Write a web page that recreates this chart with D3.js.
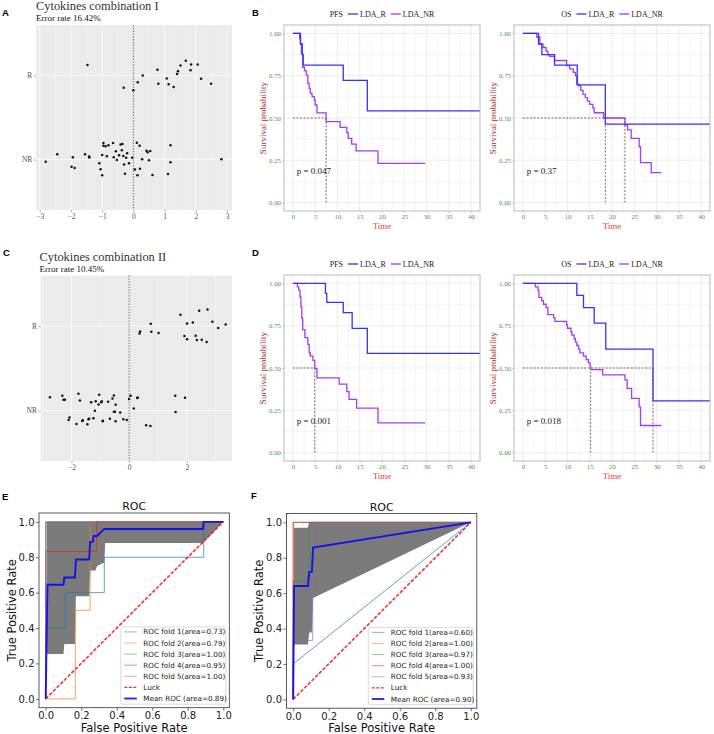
<!DOCTYPE html>
<html>
<head>
<meta charset="utf-8">
<script src="https://cdn.jsdelivr.net/npm/d3@7"></script>
<style>
  body { margin: 0; background: #fff; }
  svg { display: block; }
</style>
</head>
<body>
<div id="chart"></div>
<script>
// ---- LDA scores (x = discriminant score, y = group position with jitter; NR = 0, R = 1)
var ldaI_R = [[-1.47,1.125],[0.77,1.067],[1.51,1.118],[1.68,1.176],[1.85,1.129],[2.06,1.129],[0.30,1.0],[0.14,0.918],[-0.31,0.855],[0.0,0.824],[0.80,0.902],[1.07,0.965],[1.13,0.894],[1.29,0.863],[1.40,1.016],[1.43,1.051],[1.83,1.063],[2.17,0.961],[2.49,0.902]];
var ldaI_NR = [[-2.81,-0.027],[-2.44,0.063],[-1.94,0.027],[-1.98,-0.086],[-1.88,-0.102],[-1.55,0.063],[-1.42,0.035],[-1.41,0.024],[-1.09,-0.043],[-1.05,-0.114],[-1.00,-0.188],[-1.00,0.055],[-0.96,0.196],[-0.96,0.165],[-0.89,0.157],[-0.85,0.039],[-0.80,0.169],[-0.65,0.196],[-0.63,0.027],[-0.56,0.098],[-0.53,-0.004],[-0.46,0.051],[-0.41,0.180],[-0.35,0.184],[-0.37,0.110],[-0.32,0.043],[-0.30,-0.059],[-0.27,-0.169],[-0.23,0.020],[-0.20,0.075],[-0.14,-0.043],[-0.04,0.020],[0.05,-0.118],[0.11,0.2],[0.13,-0.188],[0.20,0.165],[0.21,-0.110],[0.28,0.004],[0.42,0.106],[0.46,0.086],[0.50,-0.008],[0.54,0.102],[0.61,-0.184],[1.11,-0.173],[1.19,0.169],[1.19,-0.031],[2.82,0.004]];
var ldaII_R = [[1.78,1.134],[2.43,1.181],[2.72,1.197],[0.75,1.028],[2.01,1.031],[2.21,1.043],[2.89,1.051],[3.09,0.976],[3.35,1.020],[0.38,0.937],[0.36,0.913],[0.77,0.933],[1.02,0.917],[1.92,0.882],[2.31,0.886],[2.01,0.843],[2.35,0.835],[2.52,0.839],[2.69,0.811]];
var ldaII_NR = [[-2.75,0.157],[-2.32,0.173],[-2.28,0.126],[-2.23,0.126],[-1.76,0.197],[-1.71,0.118],[-1.32,0.098],[-1.16,0.110],[-1.04,0.185],[-1.06,0.071],[-0.95,0.110],[-0.97,0.098],[-0.73,0.102],[-0.58,0.142],[-0.53,0.177],[-0.47,0.067],[-1.19,-0.004],[0.0,0.134],[0.05,0.173],[0.28,0.146],[0.30,0.154],[0.16,0.024],[-0.31,-0.024],[-0.49,-0.016],[-0.53,-0.016],[-0.47,-0.130],[-0.67,-0.098],[-0.92,-0.130],[-0.91,-0.122],[-1.24,-0.094],[-1.41,-0.106],[-1.39,-0.098],[-1.61,-0.118],[-1.63,-0.126],[-1.45,-0.165],[-1.83,-0.161],[-2.07,-0.083],[-2.10,-0.114],[-0.20,-0.106],[-0.08,-0.114],[0.59,-0.177],[0.74,-0.185],[1.60,0.173],[1.94,0.150],[1.61,-0.020]];

// ---- Kaplan-Meier step curves (time, survival)
var pfsB_R_t = [0, 1.7, 2.1, 2.3, 11.3, 16.7, 42];
var pfsB_R_s = [1, 0.9375, 0.875, 0.8125, 0.722, 0.542, 0.542];
var pfsB_NR_t = [0, 1.5, 1.7, 1.9, 2.2, 2.6, 3.0, 3.35, 3.65, 3.9, 4.3, 4.8, 5.0, 5.4, 7.45, 10.6, 12.1, 12.4, 13.2, 14.2, 19.1, 29.7];
var pfsB_NR_s = [1, 0.97, 0.94, 0.88, 0.80, 0.78, 0.754, 0.705, 0.675, 0.646, 0.626, 0.606, 0.577, 0.53, 0.478, 0.445, 0.413, 0.38, 0.346, 0.305, 0.232, 0.232];
var osB_R_t = [0, 3.5, 4.25, 7.1, 12.2, 18.5, 42];
var osB_R_s = [1, 0.9375, 0.875, 0.8125, 0.696, 0.464, 0.464];
var osB_NR_t = [0, 3.1, 3.8, 4.5, 5.2, 5.6, 6.0, 7.1, 9.8, 10.5, 11.3, 11.8, 12.1, 12.5, 13.0, 13.5, 14.0, 14.5, 15.0, 15.7, 16.0, 18.1, 22.9, 23.5, 24.3, 26.1, 26.4, 28.8, 31.1];
var osB_NR_s = [1, 0.979, 0.938, 0.917, 0.896, 0.875, 0.864, 0.84, 0.81, 0.79, 0.77, 0.75, 0.70, 0.69, 0.663, 0.64, 0.62, 0.60, 0.58, 0.56, 0.531, 0.50, 0.458, 0.43, 0.38, 0.33, 0.236, 0.177, 0.177];
var pfsD_R_t = [0, 7.3, 7.6, 11.3, 13.3, 16.7, 42];
var pfsD_R_s = [1, 0.941, 0.888, 0.827, 0.734, 0.587, 0.587];
var pfsD_NR_t = [0, 1.0, 1.3, 1.6, 1.8, 2.0, 2.2, 2.7, 3.35, 3.65, 3.9, 4.5, 4.9, 5.4, 10.4, 12.1, 12.6, 14.3, 19.1, 29.7];
var pfsD_NR_s = [1, 0.98, 0.96, 0.92, 0.86, 0.793, 0.727, 0.68, 0.64, 0.59, 0.57, 0.545, 0.497, 0.442, 0.405, 0.36, 0.314, 0.263, 0.175, 0.175];
var osD_R_t = [0, 12.1, 13.6, 16.0, 18.6, 29.2, 42];
var osD_R_s = [1, 0.929, 0.857, 0.765, 0.612, 0.306, 0.306];
var osD_NR_t = [0, 2.8, 3.4, 3.6, 4.2, 4.6, 5.2, 5.6, 6.9, 7.2, 9.8, 10.0, 10.8, 11.0, 11.5, 11.8, 12.1, 12.5, 12.8, 13.6, 14.2, 14.7, 15.1, 15.2, 17.9, 22.9, 23.4, 24.4, 26.1, 26.4, 31.1];
var osD_NR_s = [1, 0.98, 0.959, 0.918, 0.898, 0.877, 0.857, 0.816, 0.796, 0.776, 0.755, 0.735, 0.714, 0.694, 0.673, 0.653, 0.633, 0.612, 0.59, 0.57, 0.55, 0.53, 0.51, 0.49, 0.459, 0.43, 0.38, 0.32, 0.27, 0.16, 0.16];
var medians = { pfsB: [7.45], osB: [18.5, 22.9], pfsD: [4.9], osD: [15.2, 29.2] };
var pValues = { pfsB: 'p = 0.047', osB: 'p = 0.37', pfsD: 'p = 0.001', osD: 'p = 0.018' };

// ---- ROC folds
var rocE_f1_fpr = [0, 0, 0.11, 0.11, 0.33, 0.33, 0.89, 0.89, 1];
var rocE_f1_tpr = [0, 0.4, 0.4, 0.6, 0.6, 0.8, 0.8, 1, 1];
var rocE_f2_fpr = [0, 0.167, 0.167, 0.25, 0.25, 1];
var rocE_f2_tpr = [0, 0, 0.5, 0.5, 1, 1];
var rocE_f3_fpr = [0, 0, 1];
var rocE_f3_tpr = [0, 1, 1];
var rocE_f4_fpr = [0, 0, 0.286, 0.286, 1];
var rocE_f4_tpr = [0, 0.833, 0.833, 1, 1];
var rocE_f5_fpr = [0, 0, 1];
var rocE_f5_tpr = [0, 1, 1];
var rocE_mean_fpr = [0, 0.01, 0.10, 0.105, 0.165, 0.17, 0.245, 0.25, 0.265, 0.27, 0.29, 0.33, 0.885, 0.89, 1];
var rocE_mean_tpr = [0, 0.645, 0.645, 0.686, 0.686, 0.787, 0.787, 0.887, 0.887, 0.92, 0.92, 0.96, 0.96, 1, 1];
var rocE_band_fpr = [0.005, 0.10, 0.105, 0.165, 0.17, 0.245, 0.25, 0.28, 0.29, 0.33, 0.335, 0.885, 1];
var rocE_band_lo = [0.254, 0.254, 0.31, 0.31, 0.58, 0.58, 0.725, 0.725, 0.75, 0.77, 0.88, 0.88, 1];
var rocE_band_hi = [1, 1, 1, 1, 1, 1, 1, 1, 1, 1, 1, 1, 1];
var rocE_auc = ['0.73', '0.79', '1.00', '0.95', '1.00'];
var rocE_meanAuc = '0.89';

var rocF_f1_fpr = [0, 0, 1];
var rocF_f1_tpr = [0, 0.2, 1];
var rocF_f2_fpr = [0, 0, 1];
var rocF_f2_tpr = [0, 1, 1];
var rocF_f3_fpr = [0, 0, 0.09, 0.09, 1];
var rocF_f3_tpr = [0, 0.667, 0.667, 1, 1];
var rocF_f4_fpr = [0, 0, 1];
var rocF_f4_tpr = [0, 1, 1];
var rocF_f5_fpr = [0, 0, 0.11, 0.11, 1];
var rocF_f5_tpr = [0, 0.333, 0.333, 1, 1];
var rocF_mean_fpr = [0, 0.005, 0.083, 0.09, 0.105, 0.112, 1];
var rocF_mean_tpr = [0, 0.64, 0.64, 0.72, 0.72, 0.858, 1];
var rocF_band_fpr = [0.005, 0.083, 0.09, 0.105, 0.112, 1];
var rocF_band_lo = [0.31, 0.31, 0.377, 0.377, 0.573, 1];
var rocF_band_hi = [0.97, 0.97, 1, 1, 1, 1];
var rocF_auc = ['0.60', '1.00', '0.97', '1.00', '0.93'];
var rocF_meanAuc = '0.90';

var serif = '"Liberation Serif", "DejaVu Serif", serif';
var sans = '"DejaVu Sans", sans-serif';
var foldColors = ['#1f77b4', '#ff7f0e', '#2ca02c', '#d62728', '#9467bd'];
var colR = '#3333f5', colNR = '#a33cf2';

var svg = d3.select('#chart').append('svg').attr('width', 714).attr('height', 734);
var defs = svg.append('defs');
var clipCount = 0;
function makeClip(x, y, w, h) {
  var id = 'clip' + (clipCount++);
  defs.append('clipPath').attr('id', id).append('rect')
    .attr('x', x).attr('y', y).attr('width', w).attr('height', h);
  return 'url(#' + id + ')';
}

function panelLetter(t, x, y) {
  svg.append('text').attr('x', x).attr('y', y).text(t)
    .style('font-family', '"Liberation Sans", Arial, sans-serif')
    .style('font-weight', 'bold').style('font-size', '9.5px');
}

// ---------- LDA scatter panels ----------
function drawLda(o) {
  var x = d3.scaleLinear().domain(o.xDomain).range([o.x0, o.x1]);
  var y = d3.scaleLinear().domain([-0.6, 1.6]).range([o.y1, o.y0]);
  var g = svg.append('g').style('font-family', serif);

  g.append('rect').attr('x', o.x0).attr('y', o.y0)
    .attr('width', o.x1 - o.x0).attr('height', o.y1 - o.y0).attr('fill', '#ebebeb');
  g.selectAll('.minor').data(o.minor).enter().append('line')
    .attr('x1', function(d) { return x(d); }).attr('x2', function(d) { return x(d); })
    .attr('y1', o.y0).attr('y2', o.y1).attr('stroke', '#fff').attr('stroke-width', 0.35);
  g.selectAll('.major').data(o.ticks).enter().append('line')
    .attr('x1', function(d) { return x(d); }).attr('x2', function(d) { return x(d); })
    .attr('y1', o.y0).attr('y2', o.y1).attr('stroke', '#fff').attr('stroke-width', 0.75);
  g.selectAll('.hmajor').data([0, 1]).enter().append('line')
    .attr('x1', o.x0).attr('x2', o.x1)
    .attr('y1', function(d) { return y(d); }).attr('y2', function(d) { return y(d); })
    .attr('stroke', '#fff').attr('stroke-width', 0.75);

  g.append('line').attr('x1', x(0)).attr('x2', x(0)).attr('y1', o.y0).attr('y2', o.y1)
    .attr('stroke', '#222').attr('stroke-width', 0.7).attr('stroke-dasharray', '1.4,1.4');

  g.selectAll('.pt').data(o.R.concat(o.NR)).enter().append('circle')
    .attr('cx', function(d) { return x(d[0]); })
    .attr('cy', function(d) { return y(d[1]); })
    .attr('r', 1.25).attr('fill', '#111');

  var xAxis = d3.axisBottom(x).tickValues(o.ticks).tickSize(2.2).tickPadding(1.5)
    .tickFormat(d3.format('d'));
  var ax = g.append('g').attr('transform', 'translate(0,' + o.y1 + ')').call(xAxis);
  var yAxis = d3.axisLeft(y).tickValues([0, 1]).tickSize(2.2).tickPadding(1.5)
    .tickFormat(function(d) { return d === 1 ? 'R' : 'NR'; });
  var ay = g.append('g').attr('transform', 'translate(' + o.x0 + ',0)').call(yAxis);
  [ax, ay].forEach(function(a) {
    a.select('.domain').remove();
    a.selectAll('line').attr('stroke', '#555').attr('stroke-width', 0.5);
    a.selectAll('text').attr('fill', '#555').style('font-family', serif).style('font-size', '7.5px');
  });

  g.append('text').attr('x', o.titleX).attr('y', o.y0 - 14.6).text(o.title)
    .attr('fill', '#333').style('font-size', '12.4px');
  g.append('text').attr('x', o.titleX).attr('y', o.y0 - 3.8).text(o.subtitle)
    .attr('fill', '#111').style('font-size', '9px');
}

// ---------- Kaplan-Meier panels ----------
function drawKm(o) {
  var w = 196, h = 186;
  var x = d3.scaleLinear().domain([-2, 42]).range([o.x0, o.x0 + w]);
  var y = d3.scaleLinear().domain([-0.05, 1.05]).range([o.y0 + h, o.y0]);
  var g = svg.append('g').style('font-family', serif);

  var gridCol = '#e6e6e6';
  g.selectAll('.vmin').data(d3.range(2.5, 40, 5)).enter().append('line')
    .attr('x1', function(d) { return x(d); }).attr('x2', function(d) { return x(d); })
    .attr('y1', o.y0).attr('y2', o.y0 + h).attr('stroke', gridCol).attr('stroke-width', 0.35);
  g.selectAll('.hmin').data([0.125, 0.375, 0.625, 0.875]).enter().append('line')
    .attr('x1', o.x0).attr('x2', o.x0 + w)
    .attr('y1', function(d) { return y(d); }).attr('y2', function(d) { return y(d); })
    .attr('stroke', gridCol).attr('stroke-width', 0.35);
  g.selectAll('.vmaj').data(d3.range(0, 41, 5)).enter().append('line')
    .attr('x1', function(d) { return x(d); }).attr('x2', function(d) { return x(d); })
    .attr('y1', o.y0).attr('y2', o.y0 + h).attr('stroke', gridCol).attr('stroke-width', 0.7);
  g.selectAll('.hmaj').data([0, 0.25, 0.5, 0.75, 1]).enter().append('line')
    .attr('x1', o.x0).attr('x2', o.x0 + w)
    .attr('y1', function(d) { return y(d); }).attr('y2', function(d) { return y(d); })
    .attr('stroke', gridCol).attr('stroke-width', 0.7);

  // median survival guides
  var med = o.medians;
  g.append('line').attr('x1', x(0)).attr('x2', x(d3.max(med)))
    .attr('y1', y(0.5)).attr('y2', y(0.5))
    .attr('stroke', '#333').attr('stroke-width', 0.7).attr('stroke-dasharray', '2,1.6');
  g.selectAll('.med').data(med).enter().append('line')
    .attr('x1', function(d) { return x(d); }).attr('x2', function(d) { return x(d); })
    .attr('y1', y(0.5)).attr('y2', y(0))
    .attr('stroke', '#333').attr('stroke-width', 0.7).attr('stroke-dasharray', '2,1.6');

  var line = d3.line().curve(d3.curveStepAfter)
    .x(function(d) { return x(d[0]); }).y(function(d) { return y(d[1]); });
  var cg = g.append('g').attr('clip-path', makeClip(o.x0, o.y0, w, h));
  cg.append('path').datum(d3.zip(o.nrT, o.nrS)).attr('d', line)
    .attr('fill', 'none').attr('stroke', colNR).attr('stroke-width', 1.3);
  cg.append('path').datum(d3.zip(o.rT, o.rS)).attr('d', line)
    .attr('fill', 'none').attr('stroke', colR).attr('stroke-width', 1.3);

  g.append('rect').attr('x', o.x0).attr('y', o.y0).attr('width', w).attr('height', h)
    .attr('fill', 'none').attr('stroke', '#b3b3b3').attr('stroke-width', 0.9);

  var xAxis = d3.axisBottom(x).tickValues(d3.range(0, 41, 5)).tickSize(2).tickPadding(1.2);
  var yAxis = d3.axisLeft(y).tickValues([0, 0.25, 0.5, 0.75, 1]).tickSize(2).tickPadding(1)
    .tickFormat(d3.format('.2f'));
  var ax = g.append('g').attr('transform', 'translate(0,' + (o.y0 + h) + ')').call(xAxis);
  var ay = g.append('g').attr('transform', 'translate(' + o.x0 + ',0)').call(yAxis);
  [ax, ay].forEach(function(a) {
    a.select('.domain').remove();
    a.selectAll('line').attr('stroke', '#b3b3b3').attr('stroke-width', 0.6);
    a.selectAll('text').attr('fill', '#3f9a3f').style('font-family', serif).style('font-size', '6.8px');
  });

  g.append('text').attr('transform', 'translate(' + (o.x0 - 18.5) + ',' + (o.y0 + h / 2) + ') rotate(-90)')
    .attr('text-anchor', 'middle').text('Survival probability')
    .attr('fill', '#a3322d').style('font-size', '9px');
  g.append('text').attr('x', o.x0 + w / 2).attr('y', o.y0 + h + 18).attr('text-anchor', 'middle')
    .text('Time').attr('fill', '#f03a3a').style('font-size', '9px');

  g.append('text').attr('x', o.x0 + 12.7).attr('y', o.y0 + 149).text(o.p)
    .attr('fill', '#222').style('font-size', '9px');

  // legend centred above the panel
  var lg = g.append('g').style('font-size', '8px');
  var ly = o.y0 - 11;
  var cx = 0;
  var t0 = lg.append('text').attr('x', cx).attr('y', ly + 3).text(o.name).attr('fill', '#222');
  cx += t0.node().getComputedTextLength() + 5;
  [['LDA_R', colR], ['LDA_NR', colNR]].forEach(function(it, i) {
    lg.append('line').attr('x1', cx).attr('x2', cx + 10).attr('y1', ly).attr('y2', ly)
      .attr('stroke', it[1]).attr('stroke-width', 1.3);
    cx += 12;
    var t = lg.append('text').attr('x', cx).attr('y', ly + 3).text(it[0]).attr('fill', '#222');
    cx += t.node().getComputedTextLength() + (i === 0 ? 5 : 0);
  });
  lg.attr('transform', 'translate(' + (o.x0 + w / 2 - cx / 2) + ',0)');
}

// ---------- ROC panels ----------
function drawRoc(o) {
  var w = 190.3, h = 194.7;
  var x = d3.scaleLinear().domain([-0.0377, 1.0338]).range([o.x0, o.x0 + w]);
  var y = d3.scaleLinear().domain([-0.05, 1.05]).range([o.y0 + h, o.y0]);
  var g = svg.append('g').style('font-family', sans);

  var area = d3.area()
    .x(function(d) { return x(d[0]); })
    .y0(function(d) { return y(d[1]); })
    .y1(function(d) { return y(d[2]); });
  g.append('path').datum(d3.zip(o.bandFpr, o.bandLo, o.bandHi)).attr('d', area)
    .attr('fill', '#7b7b7b');

  var line = d3.line().x(function(d) { return x(d[0]); }).y(function(d) { return y(d[1]); });
  o.folds.forEach(function(f, i) {
    g.append('path').datum(d3.zip(f[0], f[1])).attr('d', line)
      .attr('fill', 'none').attr('stroke', foldColors[i]).attr('stroke-width', 1)
      .attr('stroke-opacity', 0.7);
  });
  g.append('path').datum([[0, 0], [1, 1]]).attr('d', line)
    .attr('fill', 'none').attr('stroke', '#ff0000').attr('stroke-width', 1.5)
    .attr('stroke-dasharray', '3.6,1.6').attr('stroke-opacity', 0.85);
  g.append('path').datum(d3.zip(o.meanFpr, o.meanTpr)).attr('d', line)
    .attr('fill', 'none').attr('stroke', '#0000ff').attr('stroke-width', 1.9)
    .attr('stroke-opacity', 0.85);

  g.append('rect').attr('x', o.x0).attr('y', o.y0).attr('width', w).attr('height', h)
    .attr('fill', 'none').attr('stroke', '#333').attr('stroke-width', 0.8);

  var ticks = [0, 0.2, 0.4, 0.6, 0.8, 1.0];
  var ax = g.append('g').attr('transform', 'translate(0,' + (o.y0 + h) + ')')
    .call(d3.axisBottom(x).tickValues(ticks).tickSize(3).tickPadding(1.5).tickFormat(d3.format('.1f')));
  var ay = g.append('g').attr('transform', 'translate(' + o.x0 + ',0)')
    .call(d3.axisLeft(y).tickValues(ticks).tickSize(3).tickPadding(1.5).tickFormat(d3.format('.1f')));
  [ax, ay].forEach(function(a) {
    a.select('.domain').remove();
    a.selectAll('line').attr('stroke', '#333').attr('stroke-width', 0.7);
    a.selectAll('text').attr('fill', '#222').style('font-family', sans).style('font-size', '10px');
  });

  g.append('text').attr('x', o.x0 + w / 2).attr('y', o.y0 - 3).attr('text-anchor', 'middle')
    .text('ROC').attr('fill', '#111').style('font-size', '11px');
  g.append('text').attr('x', o.x0 + w / 2).attr('y', 732).attr('text-anchor', 'middle')
    .text('False Positive Rate').attr('fill', '#111').style('font-size', '11.5px');
  g.append('text').attr('transform', 'translate(' + (o.x0 - 23.5) + ',' + (o.y0 + h / 2) + ') rotate(-90)')
    .attr('text-anchor', 'middle').text('True Positive Rate').attr('fill', '#111').style('font-size', '11.5px');

  // legend (lower right)
  var lw = 105, lh = 77.3;
  var lx = o.x0 + w - 3.5 - lw, ly = o.y0 + h - 3.5 - lh;
  var lg = g.append('g');
  lg.append('rect').attr('x', lx).attr('y', ly).attr('width', lw).attr('height', lh)
    .attr('rx', 2).attr('fill', '#fff').attr('fill-opacity', 0.8)
    .attr('stroke', '#cccccc').attr('stroke-width', 0.7);
  var items = o.auc.map(function(a, i) {
    return { label: 'ROC fold ' + (i + 1) + '(area=' + a + ')', color: foldColors[i], op: 0.55, w: 1, dash: null };
  });
  items.push({ label: 'Luck', color: '#ff0000', op: 0.85, w: 1.4, dash: '3,1.5' });
  items.push({ label: 'Mean ROC (area=' + o.meanAuc + ')', color: '#0000ff', op: 0.85, w: 1.9, dash: null });
  items.forEach(function(it, i) {
    var cy = ly + 5 + i * 11.1;
    lg.append('line').attr('x1', lx + 3.5).attr('x2', lx + 16).attr('y1', cy).attr('y2', cy)
      .attr('stroke', it.color).attr('stroke-opacity', it.op).attr('stroke-width', it.w)
      .attr('stroke-dasharray', it.dash);
    lg.append('text').attr('x', lx + 22.5).attr('y', cy + 2.5).text(it.label)
      .attr('fill', '#222').style('font-size', '7.2px');
  });
}

// ---- draw everything
panelLetter('A', 2, 16);
panelLetter('B', 252, 16);
panelLetter('C', 3, 256);
panelLetter('D', 252, 256);
panelLetter('E', 2, 500);
panelLetter('F', 251, 499);

drawLda({ x0: 36, x1: 232, y0: 25, y1: 210, xDomain: [-3.12, 3.16],
  ticks: [-3, -2, -1, 0, 1, 2, 3], minor: [-2.5, -1.5, -0.5, 0.5, 1.5, 2.5],
  R: ldaI_R, NR: ldaI_NR, titleX: 36,
  title: 'Cytokines combination I', subtitle: 'Error rate 16.42%' });
drawLda({ x0: 40.7, x1: 232, y0: 275.5, y1: 461, xDomain: [-3.07, 3.57],
  ticks: [-2, 0, 2], minor: [-3, -1, 1, 3],
  R: ldaII_R, NR: ldaII_NR, titleX: 39.5,
  title: 'Cytokines combination II', subtitle: 'Error rate 10.45%' });

drawKm({ x0: 284, y0: 25, name: 'PFS', rT: pfsB_R_t, rS: pfsB_R_s, nrT: pfsB_NR_t, nrS: pfsB_NR_s,
  medians: medians.pfsB, p: pValues.pfsB });
drawKm({ x0: 514, y0: 25, name: 'OS', rT: osB_R_t, rS: osB_R_s, nrT: osB_NR_t, nrS: osB_NR_s,
  medians: medians.osB, p: pValues.osB });
drawKm({ x0: 284, y0: 275, name: 'PFS', rT: pfsD_R_t, rS: pfsD_R_s, nrT: pfsD_NR_t, nrS: pfsD_NR_s,
  medians: medians.pfsD, p: pValues.pfsD });
drawKm({ x0: 514, y0: 275, name: 'OS', rT: osD_R_t, rS: osD_R_s, nrT: osD_NR_t, nrS: osD_NR_s,
  medians: medians.osD, p: pValues.osD });

drawRoc({ x0: 39, y0: 513,
  folds: [[rocE_f1_fpr, rocE_f1_tpr], [rocE_f2_fpr, rocE_f2_tpr], [rocE_f3_fpr, rocE_f3_tpr],
          [rocE_f4_fpr, rocE_f4_tpr], [rocE_f5_fpr, rocE_f5_tpr]],
  meanFpr: rocE_mean_fpr, meanTpr: rocE_mean_tpr,
  bandFpr: rocE_band_fpr, bandLo: rocE_band_lo, bandHi: rocE_band_hi,
  auc: rocE_auc, meanAuc: rocE_meanAuc });
drawRoc({ x0: 286.5, y0: 513.5,
  folds: [[rocF_f1_fpr, rocF_f1_tpr], [rocF_f2_fpr, rocF_f2_tpr], [rocF_f3_fpr, rocF_f3_tpr],
          [rocF_f4_fpr, rocF_f4_tpr], [rocF_f5_fpr, rocF_f5_tpr]],
  meanFpr: rocF_mean_fpr, meanTpr: rocF_mean_tpr,
  bandFpr: rocF_band_fpr, bandLo: rocF_band_lo, bandHi: rocF_band_hi,
  auc: rocF_auc, meanAuc: rocF_meanAuc });
</script>
</body>
</html>
